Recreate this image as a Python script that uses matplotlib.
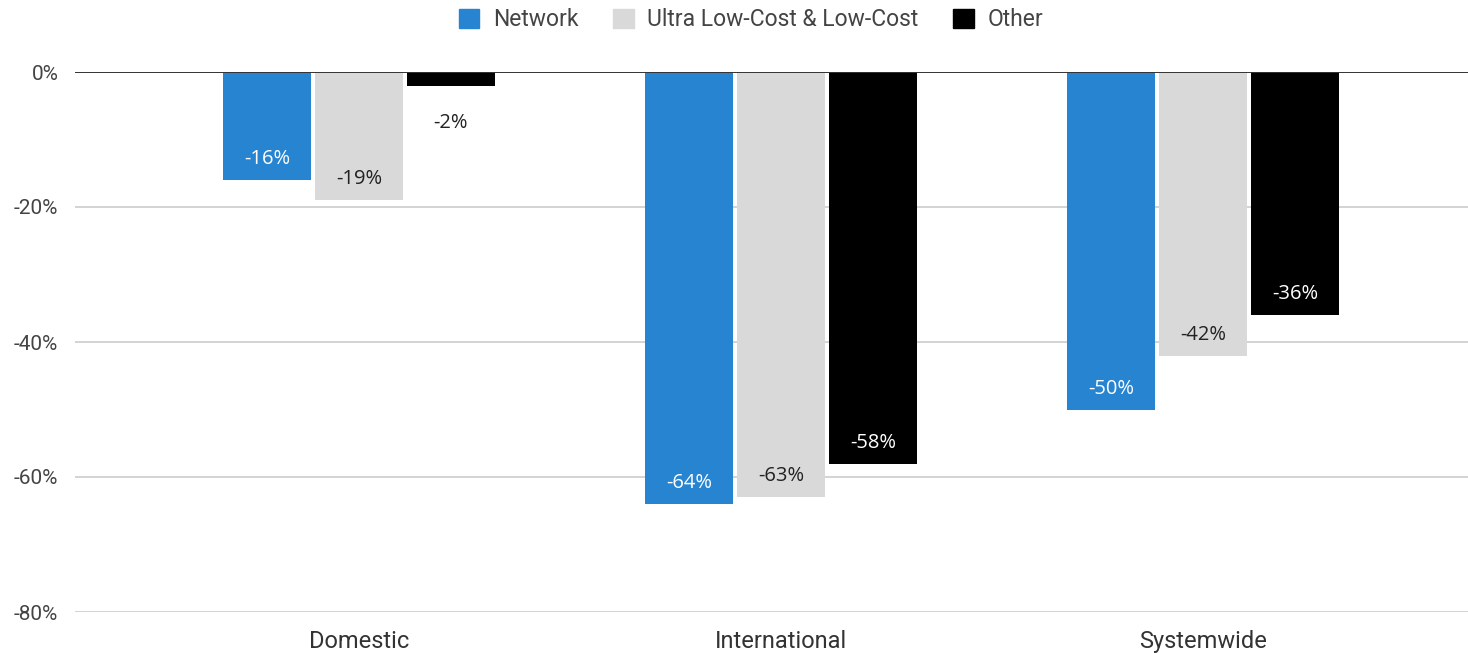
import numpy as np
import matplotlib
matplotlib.use("Agg")
import matplotlib.pyplot as plt
from matplotlib.patches import Patch

categories = ["Domestic", "International", "Systemwide"]
series_names = ["Network", "Ultra Low-Cost & Low-Cost", "Other"]
network = [-16, -64, -50]
low_cost = [-19, -63, -42]
other = [-2, -58, -36]
y_ticks = [0, -20, -40, -60, -80]

colors = ["#2684d0", "#d9d9d9", "#000000"]
label_colors = ["white", "#222222", "white"]

plt.rcParams['font.family'] = ['Open Sans', 'DejaVu Sans']

fig = plt.figure(figsize=(14.68, 6.53), dpi=100)
ax = fig.add_axes([75 / 1468, 1 - 612 / 653, 1 - 75 / 1468, 540 / 653])

x = np.arange(len(categories))
step = 92 / 422
width = 88 / 422

for i, (vals, col, lcol) in enumerate(zip([network, low_cost, other], colors, label_colors)):
    xs = x + (i - 1) * step
    ax.bar(xs, vals, width=width, color=col, zorder=3)
    for xi, v in zip(xs, vals):
        if abs(v) < 5:
            ax.annotate(f"{v}%", (xi, v), xytext=(0, -37), textcoords="offset pixels",
                        ha="center", va="center", fontsize=14.5, color="#222222", zorder=4)
        else:
            ax.annotate(f"{v}%", (xi, v), xytext=(0, 21), textcoords="offset pixels",
                        ha="center", va="center", fontsize=14.5, color=lcol, zorder=4)

ax.set_ylim(-80, 0)
ax.set_xlim(-(359 - 75) / 422, 2 + (1468 - 1203) / 422)
ax.set_yticks(y_ticks)
ax.set_yticklabels([f"{t}%" for t in y_ticks], fontfamily=["Roboto", "DejaVu Sans"])
ax.set_xticks(x)
ax.set_xticklabels(categories, fontfamily=["Roboto", "DejaVu Sans"])
ax.tick_params(axis="y", length=0, pad=12, labelsize=15, labelcolor="#444444")
ax.tick_params(axis="x", length=0, pad=13, labelsize=17, labelcolor="#333333")
ax.grid(axis="y", color="#cccccc", linewidth=1.2, zorder=0)
ax.axhline(0, color="#333333", linewidth=1.4, zorder=5)
for s in ax.spines.values():
    s.set_visible(False)

handles = [Patch(color=c) for c in colors]
fig.legend(handles, series_names, loc="center", bbox_to_anchor=(751 / 1468, 1 - 20 / 653),
           ncol=3, frameon=False, handlelength=0.9, handleheight=0.9, handletextpad=0.6,
           columnspacing=1.5, prop={"family": ["Roboto", "DejaVu Sans"], "size": 16.5},
           labelcolor="#444444")

fig.savefig("out.png", dpi=100)
